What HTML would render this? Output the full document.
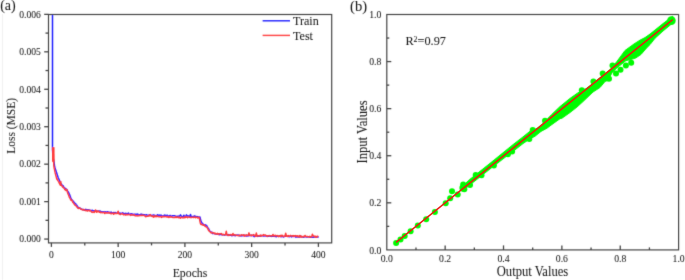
<!DOCTYPE html>
<html><head><meta charset="utf-8"><style>
html,body{margin:0;padding:0;background:#fff;}
svg{display:block;font-family:"Liberation Serif", serif;}
text{fill:#1a1a1a;stroke:#1a1a1a;stroke-width:0.05px;}
</style></head><body>
<svg width="685" height="280" viewBox="0 0 685 280">
<defs><filter id="bl" x="0" y="0" width="685" height="280" filterUnits="userSpaceOnUse"><feConvolveMatrix order="3" kernelMatrix="0.0114 0.084 0.0114 0.084 0.618 0.084 0.0114 0.084 0.0114" edgeMode="none"/></filter></defs>
<g filter="url(#bl)">
<line x1="2.5" y1="14" x2="2.5" y2="280" stroke="#ededed" stroke-width="0.8"/>
<rect x="48.5" y="14.5" width="283.20" height="228.40" fill="none" stroke="#464646" stroke-width="1.2"/>
<line x1="44.20" y1="239.07" x2="48.5" y2="239.07" stroke="#464646" stroke-width="1.3"/>
<text transform="translate(40.80,242.37) scale(1,1.13)" text-anchor="end" font-size="9.6">0.000</text>
<line x1="44.20" y1="201.62" x2="48.5" y2="201.62" stroke="#464646" stroke-width="1.3"/>
<text transform="translate(40.80,204.92) scale(1,1.13)" text-anchor="end" font-size="9.6">0.001</text>
<line x1="44.20" y1="164.17" x2="48.5" y2="164.17" stroke="#464646" stroke-width="1.3"/>
<text transform="translate(40.80,167.47) scale(1,1.13)" text-anchor="end" font-size="9.6">0.002</text>
<line x1="44.20" y1="126.72" x2="48.5" y2="126.72" stroke="#464646" stroke-width="1.3"/>
<text transform="translate(40.80,130.02) scale(1,1.13)" text-anchor="end" font-size="9.6">0.003</text>
<line x1="44.20" y1="89.27" x2="48.5" y2="89.27" stroke="#464646" stroke-width="1.3"/>
<text transform="translate(40.80,92.57) scale(1,1.13)" text-anchor="end" font-size="9.6">0.004</text>
<line x1="44.20" y1="51.82" x2="48.5" y2="51.82" stroke="#464646" stroke-width="1.3"/>
<text transform="translate(40.80,55.12) scale(1,1.13)" text-anchor="end" font-size="9.6">0.005</text>
<line x1="44.20" y1="14.37" x2="48.5" y2="14.37" stroke="#464646" stroke-width="1.3"/>
<text transform="translate(40.80,17.67) scale(1,1.13)" text-anchor="end" font-size="9.6">0.006</text>
<line x1="45.50" y1="220.34" x2="48.5" y2="220.34" stroke="#464646" stroke-width="1.3"/>
<line x1="45.50" y1="182.89" x2="48.5" y2="182.89" stroke="#464646" stroke-width="1.3"/>
<line x1="45.50" y1="145.44" x2="48.5" y2="145.44" stroke="#464646" stroke-width="1.3"/>
<line x1="45.50" y1="108.00" x2="48.5" y2="108.00" stroke="#464646" stroke-width="1.3"/>
<line x1="45.50" y1="70.54" x2="48.5" y2="70.54" stroke="#464646" stroke-width="1.3"/>
<line x1="45.50" y1="33.09" x2="48.5" y2="33.09" stroke="#464646" stroke-width="1.3"/>
<line x1="51.40" y1="242.9" x2="51.40" y2="246.90" stroke="#464646" stroke-width="1.3"/>
<text transform="translate(51.40,257.80) scale(1,1.13)" text-anchor="middle" font-size="9.6">0</text>
<line x1="118.15" y1="242.9" x2="118.15" y2="246.90" stroke="#464646" stroke-width="1.3"/>
<text transform="translate(118.15,257.80) scale(1,1.13)" text-anchor="middle" font-size="9.6">100</text>
<line x1="184.90" y1="242.9" x2="184.90" y2="246.90" stroke="#464646" stroke-width="1.3"/>
<text transform="translate(184.90,257.80) scale(1,1.13)" text-anchor="middle" font-size="9.6">200</text>
<line x1="251.65" y1="242.9" x2="251.65" y2="246.90" stroke="#464646" stroke-width="1.3"/>
<text transform="translate(251.65,257.80) scale(1,1.13)" text-anchor="middle" font-size="9.6">300</text>
<line x1="318.40" y1="242.9" x2="318.40" y2="246.90" stroke="#464646" stroke-width="1.3"/>
<text transform="translate(318.40,257.80) scale(1,1.13)" text-anchor="middle" font-size="9.6">400</text>
<line x1="84.78" y1="242.9" x2="84.78" y2="245.40" stroke="#464646" stroke-width="1.3"/>
<line x1="151.53" y1="242.9" x2="151.53" y2="245.40" stroke="#464646" stroke-width="1.3"/>
<line x1="218.28" y1="242.9" x2="218.28" y2="245.40" stroke="#464646" stroke-width="1.3"/>
<line x1="285.02" y1="242.9" x2="285.02" y2="245.40" stroke="#464646" stroke-width="1.3"/>
<text transform="translate(190.00,276.80) scale(1,1.13)" text-anchor="middle" font-size="11.8">Epochs</text>
<text transform="translate(15.40,125.90) rotate(-90) scale(1,1.13)" text-anchor="middle" font-size="11.5">Loss (MSE)</text>
<text transform="translate(0.20,10.00) scale(1,1.0)" font-size="14.0">(a)</text>
<line x1="262.6" y1="20.8" x2="290" y2="20.8" stroke="#2e2eff" stroke-width="1.5"/>
<text transform="translate(293.00,24.90) scale(1,1.03)" font-size="12.1">Train</text>
<line x1="262.6" y1="35.4" x2="290" y2="35.4" stroke="#ff4a4a" stroke-width="1.5"/>
<text transform="translate(293.00,39.90) scale(1,1.03)" font-size="12.1">Test</text>
<defs><clipPath id="ca"><rect x="48.5" y="15.1" width="283.2" height="228.4"/></clipPath></defs>
<g clip-path="url(#ca)" fill="none" stroke-linejoin="round">
<polyline points="52.50,10.00 52.50,150.00 53.00,157.00 54.00,161.80 54.70,167.10 56.50,172.50 58.20,177.80 60.20,182.13 60.53,183.13 60.87,183.84 61.20,183.92 61.54,184.20 61.87,184.95 62.20,185.45 62.54,185.97 62.87,185.61 63.20,185.92 63.54,186.85 63.87,187.11 64.20,187.77 64.54,187.93 64.87,187.95 65.21,188.25 65.54,189.46 65.87,188.95 66.21,189.16 66.88,189.76 67.54,190.84 68.21,191.80 68.88,193.11 69.55,194.64 70.21,196.31 70.88,198.04 71.55,199.45 72.22,200.19 72.88,200.59 73.55,202.18 74.22,202.24 74.89,203.31 75.55,203.62 76.22,204.82 76.89,205.34 77.56,206.40 78.22,207.94 78.81,207.51 79.39,208.34 79.98,208.04 80.57,208.58 81.16,209.09 81.74,209.08 82.33,209.44 82.92,209.59 83.51,209.41 84.09,210.02 84.68,209.75 85.27,209.90 85.86,209.33 86.44,209.83 87.03,209.77 87.70,210.16 88.37,209.78 89.04,210.35 89.71,210.11 90.37,210.62 91.04,210.52 91.71,210.46 92.38,210.28 93.04,210.83 93.71,210.81 94.38,211.23 95.05,210.69 95.71,211.04 96.38,211.09 97.05,211.09 97.72,211.13 98.38,211.19 99.05,211.03 99.72,210.97 100.39,211.22 101.05,211.57 101.72,211.91 102.39,211.81 103.06,211.89 103.72,211.87 104.39,211.90 105.06,211.81 105.72,212.05 106.39,212.41 107.06,211.84 107.73,211.79 108.40,212.64 109.06,212.19 109.73,212.47 110.40,212.50 111.06,211.96 111.73,213.10 112.40,212.96 113.07,212.55 113.73,212.78 114.40,212.66 115.07,212.42 115.74,212.72 116.41,212.93 117.07,213.21 117.74,212.35 118.41,213.02 119.07,213.48 119.74,212.90 120.41,213.41 121.08,213.55 121.75,213.18 122.41,212.78 123.08,213.09 123.75,213.48 124.41,213.61 125.08,213.97 125.75,213.25 126.42,213.60 127.09,213.84 127.75,213.64 128.42,213.02 129.09,214.02 129.75,214.52 130.42,214.17 131.09,213.64 131.76,213.84 132.43,214.07 133.09,214.80 133.76,214.28 134.43,214.17 135.09,214.65 135.76,214.21 136.43,214.83 137.10,214.11 137.77,214.22 138.43,214.63 139.10,214.88 139.77,214.70 140.44,214.64 141.10,214.04 141.77,214.42 142.44,214.50 143.10,214.56 143.77,214.95 144.44,214.71 145.11,215.10 145.78,214.93 146.44,214.83 147.11,215.00 147.78,215.12 148.44,215.28 149.11,214.91 149.78,215.01 150.45,214.70 151.12,215.62 151.78,215.61 152.45,215.15 153.12,215.09 153.78,214.89 154.45,215.34 155.12,215.38 155.79,216.01 156.46,215.45 157.12,215.18 157.79,214.71 158.46,215.89 159.12,215.56 159.79,215.05 160.46,215.61 161.13,215.11 161.79,216.66 162.46,215.98 163.13,215.85 163.80,215.65 164.47,215.09 165.13,215.71 165.80,215.31 166.47,215.98 167.13,215.18 167.80,215.57 168.47,216.23 169.14,216.38 169.81,215.55 170.47,215.47 171.14,216.22 171.81,216.23 172.47,215.70 173.14,215.81 173.81,215.84 174.48,215.71 175.15,215.89 175.81,216.49 176.48,216.34 177.15,216.77 177.81,216.15 178.48,216.16 179.15,215.93 179.82,216.21 180.49,214.88 181.15,215.76 181.82,216.51 182.49,216.75 183.16,216.57 183.82,215.23 184.49,216.41 185.16,216.13 185.83,216.38 186.49,214.85 187.16,216.04 187.83,215.87 188.50,215.94 189.16,216.39 189.83,216.45 190.50,214.47 191.17,216.85 191.83,216.48 192.50,216.61 193.17,216.81 193.84,216.21 194.50,215.87 195.17,216.69 195.84,216.27 196.50,216.88 197.17,216.59 197.84,216.83 199.31,217.28 199.98,216.96 200.64,220.06 201.31,222.01 201.98,222.97 202.65,223.63 203.31,224.34 203.98,224.73 204.65,225.13 205.32,224.68 205.98,225.56 206.65,225.61 207.32,227.01 207.99,228.09 208.65,228.70 209.32,230.15 209.99,231.14 210.66,231.92 211.32,231.92 211.99,232.42 212.66,232.62 212.53,233.56 213.19,233.54 213.86,233.36 214.53,233.65 215.19,233.78 215.86,233.95 216.53,233.95 217.20,233.99 217.87,233.79 218.53,234.06 219.20,234.82 219.87,234.56 220.53,234.50 221.20,234.49 221.87,234.65 222.54,234.82 223.21,234.60 223.87,234.93 224.54,235.02 225.21,234.79 225.88,234.81 226.54,234.79 227.21,234.81 227.88,235.43 228.55,234.49 229.21,235.16 229.88,235.10 230.55,235.13 231.22,235.38 231.88,235.73 232.55,235.43 233.22,235.38 233.89,235.25 234.55,235.41 235.22,235.73 235.89,235.35 236.56,235.14 237.22,235.11 237.89,235.17 238.56,235.10 239.23,235.86 239.89,235.65 240.56,235.48 241.23,236.00 241.90,235.38 242.56,235.81 243.23,235.84 243.90,235.15 244.57,235.16 245.23,235.36 245.90,235.92 246.57,236.05 247.24,235.30 247.90,236.00 248.57,235.58 249.24,235.59 249.91,235.55 250.57,235.63 251.24,235.20 251.91,235.46 252.58,235.40 253.24,235.93 253.91,236.42 254.58,236.62 255.25,235.71 255.91,235.31 256.58,235.72 257.25,235.57 257.92,236.46 258.58,236.05 259.25,235.67 259.92,236.18 260.59,236.07 261.25,235.44 261.92,235.78 262.59,235.88 263.25,235.97 263.92,236.02 264.59,235.89 265.26,236.06 265.93,235.84 266.59,235.76 267.26,236.50 267.93,236.17 268.60,236.20 269.26,235.61 269.93,236.05 270.60,236.36 271.26,235.74 271.93,236.47 272.60,236.04 273.27,236.29 273.94,236.14 274.60,236.26 275.27,236.57 275.94,236.10 276.61,236.70 277.27,236.01 277.94,235.98 278.61,236.49 279.28,235.97 279.94,236.19 280.61,236.58 281.28,236.69 281.94,235.81 282.61,236.50 283.28,236.93 283.95,236.74 284.62,236.32 285.28,236.23 285.95,236.33 286.62,236.09 287.29,236.37 287.95,236.40 288.62,236.43 289.29,236.84 289.95,236.43 290.62,236.08 291.29,236.84 291.96,236.22 292.62,236.42 293.29,236.53 293.96,236.48 294.63,236.30 295.30,236.54 295.96,237.28 296.63,236.46 297.30,236.61 297.97,237.01 298.63,236.91 299.30,236.93 299.97,236.97 300.63,236.13 301.30,236.48 301.97,236.79 302.64,236.92 303.31,237.17 303.97,236.94 304.64,236.74 305.31,236.84 305.98,236.77 306.64,236.93 307.31,237.07 307.98,236.78 308.64,236.65 309.31,236.65 309.98,237.25 310.65,237.32 311.31,237.25 311.98,237.22 312.65,237.23 313.32,236.99 313.99,237.21 314.65,236.71 315.32,236.97 315.99,236.83 316.65,237.28 317.32,236.90 317.99,237.06 318.66,237.22" stroke="#2424ff" stroke-width="1.5"/>
<polyline points="53.20,147.50 53.40,161.50 53.70,162.60 53.75,164.89 54.08,167.51 54.42,169.15 54.75,170.79 55.09,172.43 55.42,173.70 55.75,174.96 56.09,176.22 56.42,177.45 56.75,179.03 57.09,178.55 57.42,179.86 57.76,180.40 58.09,180.72 58.42,181.36 58.76,181.91 59.09,182.60 59.42,183.31 59.76,184.07 60.09,184.29 60.42,185.14 60.76,181.62 61.09,185.42 61.43,185.63 61.76,185.68 62.09,185.78 62.43,186.68 62.76,186.98 63.09,187.50 63.43,187.83 63.76,187.58 64.10,188.14 64.43,188.34 64.76,189.49 65.43,189.78 66.10,190.58 66.77,189.30 67.43,192.18 68.10,193.89 68.77,195.58 69.44,197.39 70.10,198.16 70.77,199.85 71.44,200.41 72.11,200.29 72.77,202.26 73.44,202.92 74.11,203.95 74.78,204.84 75.44,205.40 76.11,205.83 76.78,206.87 77.45,207.43 78.11,208.18 78.78,208.43 79.45,207.95 80.12,208.49 80.78,208.85 81.45,209.57 82.12,209.40 82.79,209.98 83.45,209.89 84.12,209.47 84.79,210.08 85.46,210.61 86.12,210.70 86.79,210.13 87.46,210.97 88.13,210.68 88.79,210.20 89.46,210.87 90.13,210.44 90.80,210.79 91.46,211.90 92.13,212.38 92.80,211.94 93.47,211.78 94.13,212.40 94.80,211.88 95.47,209.95 96.14,210.97 96.80,212.29 97.47,211.18 98.14,211.01 98.81,211.91 99.47,212.25 100.14,211.96 100.81,212.74 101.48,212.37 102.14,212.55 102.81,212.69 103.48,212.37 104.15,212.73 104.81,213.58 105.48,212.42 106.15,212.89 106.82,213.09 107.48,212.75 108.15,212.99 108.82,212.42 109.49,212.97 110.15,213.21 110.82,213.68 111.49,213.68 112.16,213.17 112.82,213.03 113.49,214.20 114.16,213.91 114.83,212.92 115.49,213.58 116.16,213.43 116.83,213.60 117.50,213.25 118.16,211.20 118.83,213.83 119.50,214.00 120.17,214.53 120.83,214.27 121.50,213.77 122.17,213.62 122.84,214.12 123.50,214.81 124.17,214.77 124.84,214.24 125.51,214.95 126.17,214.72 126.84,214.38 127.51,214.82 128.18,214.67 128.84,214.32 129.51,214.63 130.18,214.90 130.85,215.38 131.51,214.54 132.18,215.06 132.85,215.03 133.52,215.05 134.18,214.65 134.85,215.63 135.52,215.69 136.19,215.85 136.85,215.47 137.52,215.90 138.19,215.59 138.86,215.81 139.52,215.34 140.19,215.60 140.86,215.44 141.53,215.21 142.19,215.49 142.86,215.27 143.53,215.32 144.20,215.64 144.86,215.60 145.53,216.67 146.20,216.59 146.87,216.35 147.53,216.27 148.20,215.67 148.87,216.14 149.54,215.51 150.20,214.55 150.87,215.94 151.54,216.01 152.21,216.51 152.87,215.91 153.54,217.16 154.21,216.08 154.88,216.63 155.54,215.73 156.21,216.71 156.88,215.92 157.55,216.50 158.21,216.45 158.88,216.80 159.55,216.74 160.22,216.69 160.88,216.51 161.55,217.35 162.22,216.45 162.89,216.67 163.55,216.51 164.22,216.77 164.89,216.37 165.56,216.60 166.22,216.97 166.89,216.58 167.56,217.00 168.23,216.62 168.89,217.41 169.56,216.84 170.23,216.59 170.90,217.13 171.56,216.91 172.23,217.35 172.90,217.45 173.57,217.61 174.23,217.58 174.90,217.42 175.57,216.65 176.24,217.48 176.90,217.11 177.57,217.32 178.24,217.67 178.91,216.93 179.57,217.74 180.24,218.17 180.91,217.49 181.58,217.18 182.24,217.83 182.91,217.38 183.58,217.72 184.25,217.81 184.91,216.76 185.58,217.47 186.25,216.77 186.92,217.09 187.58,217.60 188.25,216.92 188.92,217.11 189.59,217.22 190.25,217.52 190.92,217.54 191.59,217.58 192.26,217.23 192.92,217.14 193.59,217.60 194.26,217.11 194.93,217.14 195.59,217.73 196.26,217.17 196.93,217.13 197.60,217.92 198.26,217.61 198.93,217.26 199.60,219.27 200.27,222.91 200.93,224.52 201.60,224.07 202.27,224.76 202.94,225.09 203.60,225.24 204.27,224.74 204.94,226.24 205.61,226.51 206.27,226.89 206.94,227.18 207.61,228.43 208.28,229.74 208.94,230.80 209.61,231.54 210.28,231.81 210.95,232.85 211.61,232.93 212.28,232.39 212.95,232.74 213.62,233.27 214.28,233.03 214.95,233.92 215.62,233.32 216.29,233.76 216.95,233.98 217.62,233.39 218.29,234.38 218.96,233.90 219.62,233.79 220.29,233.87 220.96,233.57 221.63,233.77 222.29,234.94 222.96,234.40 223.63,234.42 224.30,234.68 224.96,234.90 225.63,234.42 226.30,231.28 226.97,234.90 227.63,235.22 228.30,234.97 228.97,235.54 229.64,234.87 230.30,234.86 230.97,234.50 231.64,235.05 232.31,235.33 232.97,233.51 233.64,235.05 234.31,234.75 234.98,234.91 235.64,234.98 236.31,235.13 236.98,235.58 237.65,235.38 238.31,235.54 238.98,235.66 239.65,235.04 240.32,235.74 240.98,235.26 241.65,234.75 242.32,235.04 242.99,235.25 243.65,234.71 244.32,236.18 244.99,235.30 245.66,235.65 246.32,234.88 246.99,235.39 247.66,235.46 248.33,235.08 248.99,232.88 249.66,235.40 250.33,235.55 251.00,234.96 251.66,235.63 252.33,235.34 253.00,235.13 253.67,234.63 254.33,235.41 255.00,235.35 255.67,236.41 256.34,233.06 257.00,236.09 257.67,236.02 258.34,235.71 259.01,235.66 259.67,235.76 260.34,235.03 261.01,236.14 261.68,235.49 262.34,235.34 263.01,235.64 263.68,234.61 264.35,235.16 265.01,235.23 265.68,235.10 266.35,235.93 267.02,236.33 267.68,235.74 268.35,235.62 269.02,235.88 269.69,235.58 270.35,235.83 271.02,235.95 271.69,235.72 272.36,235.67 273.02,234.46 273.69,235.87 274.36,236.12 275.03,235.30 275.69,235.47 276.36,235.72 277.03,236.10 277.70,235.44 278.36,236.40 279.03,236.50 279.70,235.69 280.37,236.41 281.03,235.20 281.70,235.97 282.37,235.41 283.04,236.44 283.70,236.37 284.37,236.25 285.04,235.85 285.71,233.26 286.37,236.26 287.04,235.92 287.71,236.38 288.38,235.53 289.04,236.31 289.71,236.36 290.38,235.31 291.05,235.70 291.71,235.93 292.38,235.99 293.05,235.57 293.72,236.25 294.38,235.83 295.05,236.24 295.72,235.59 296.39,235.85 297.05,236.58 297.72,235.67 298.39,236.32 299.06,236.90 299.72,235.47 300.39,235.88 301.06,237.24 301.73,236.20 302.39,236.78 303.06,236.80 303.73,236.33 304.40,236.70 305.06,235.43 305.73,236.53 306.40,236.57 307.07,236.39 307.73,236.58 308.40,236.95 309.07,236.92 309.74,236.34 310.40,236.89 311.07,237.05 311.74,236.66 312.41,234.18 313.07,235.71 313.74,236.06 314.41,236.82 315.08,236.12 315.74,237.02 316.41,237.16 317.08,236.35 317.75,236.30 318.41,236.68" stroke="#ff3a3a" stroke-width="1.5"/>
<line x1="53.25" y1="147.2" x2="53.35" y2="161.8" stroke="#ff3a3a" stroke-width="2.6"/>
</g>
<rect x="386.8" y="14.5" width="291.80" height="235.40" fill="none" stroke="#464646" stroke-width="1.2"/>
<text transform="translate(381.30,253.50) scale(1,1.13)" text-anchor="end" font-size="9.7">0.0</text>
<text transform="translate(386.80,262.40) scale(1,1.13)" text-anchor="middle" font-size="9.7">0.0</text>
<line x1="386.8" y1="202.82" x2="391.30" y2="202.82" stroke="#464646" stroke-width="1.3"/>
<line x1="445.16" y1="249.9" x2="445.16" y2="245.40" stroke="#464646" stroke-width="1.3"/>
<text transform="translate(381.30,206.42) scale(1,1.13)" text-anchor="end" font-size="9.7">0.2</text>
<text transform="translate(445.16,262.40) scale(1,1.13)" text-anchor="middle" font-size="9.7">0.2</text>
<line x1="386.8" y1="155.74" x2="391.30" y2="155.74" stroke="#464646" stroke-width="1.3"/>
<line x1="503.52" y1="249.9" x2="503.52" y2="245.40" stroke="#464646" stroke-width="1.3"/>
<text transform="translate(381.30,159.34) scale(1,1.13)" text-anchor="end" font-size="9.7">0.4</text>
<text transform="translate(503.52,262.40) scale(1,1.13)" text-anchor="middle" font-size="9.7">0.4</text>
<line x1="386.8" y1="108.66" x2="391.30" y2="108.66" stroke="#464646" stroke-width="1.3"/>
<line x1="561.88" y1="249.9" x2="561.88" y2="245.40" stroke="#464646" stroke-width="1.3"/>
<text transform="translate(381.30,112.26) scale(1,1.13)" text-anchor="end" font-size="9.7">0.6</text>
<text transform="translate(561.88,262.40) scale(1,1.13)" text-anchor="middle" font-size="9.7">0.6</text>
<line x1="386.8" y1="61.58" x2="391.30" y2="61.58" stroke="#464646" stroke-width="1.3"/>
<line x1="620.24" y1="249.9" x2="620.24" y2="245.40" stroke="#464646" stroke-width="1.3"/>
<text transform="translate(381.30,65.18) scale(1,1.13)" text-anchor="end" font-size="9.7">0.8</text>
<text transform="translate(620.24,262.40) scale(1,1.13)" text-anchor="middle" font-size="9.7">0.8</text>
<text transform="translate(381.30,18.10) scale(1,1.13)" text-anchor="end" font-size="9.7">1.0</text>
<text transform="translate(678.60,262.40) scale(1,1.13)" text-anchor="middle" font-size="9.7">1.0</text>
<line x1="386.8" y1="226.36" x2="389.30" y2="226.36" stroke="#464646" stroke-width="1.3"/>
<line x1="415.98" y1="249.9" x2="415.98" y2="247.40" stroke="#464646" stroke-width="1.3"/>
<line x1="386.8" y1="179.28" x2="389.30" y2="179.28" stroke="#464646" stroke-width="1.3"/>
<line x1="474.34" y1="249.9" x2="474.34" y2="247.40" stroke="#464646" stroke-width="1.3"/>
<line x1="386.8" y1="132.20" x2="389.30" y2="132.20" stroke="#464646" stroke-width="1.3"/>
<line x1="532.70" y1="249.9" x2="532.70" y2="247.40" stroke="#464646" stroke-width="1.3"/>
<line x1="386.8" y1="85.12" x2="389.30" y2="85.12" stroke="#464646" stroke-width="1.3"/>
<line x1="591.06" y1="249.9" x2="591.06" y2="247.40" stroke="#464646" stroke-width="1.3"/>
<line x1="386.8" y1="38.04" x2="389.30" y2="38.04" stroke="#464646" stroke-width="1.3"/>
<line x1="649.42" y1="249.9" x2="649.42" y2="247.40" stroke="#464646" stroke-width="1.3"/>
<text transform="translate(532.50,276.40) scale(1,1.13)" text-anchor="middle" font-size="12.6">Output Values</text>
<text transform="translate(367.00,132.00) rotate(-90) scale(1,1.13)" text-anchor="middle" font-size="12.6">Input Values</text>
<text transform="translate(350.10,10.60) scale(1,1.0)" font-size="14.6">(b)</text>
<text transform="translate(405.4,45.4) scale(1,1.02)" font-size="12.3">R<tspan dy="-3.6" font-size="7.8">2</tspan><tspan dy="3.6">=0.97</tspan></text>
<g>
<polygon points="462.50,186.12 470.00,179.27 490.00,163.36 513.00,144.64 523.00,136.88 530.00,131.24 534.00,129.52 537.00,128.51 543.00,123.67 548.00,118.25 552.00,114.22 560.00,106.58 570.00,98.42 577.00,93.49 583.00,89.55 586.00,88.84 592.00,84.30 600.00,77.86 608.00,71.42 612.00,67.69 617.00,61.37 621.00,55.94 625.00,50.52 634.00,43.97 640.00,40.14 645.00,37.61 650.00,34.08 663.00,23.61 672.70,16.20 672.70,23.00 663.00,31.01 655.00,38.26 650.00,44.58 646.40,48.18 641.00,54.43 635.70,58.00 630.00,59.79 626.00,60.52 617.00,67.77 612.00,72.79 609.00,78.41 605.00,81.53 600.00,87.46 593.00,92.00 583.00,101.55 577.00,106.99 570.00,112.52 562.00,118.17 560.00,118.68 551.00,125.13 547.00,128.15 541.00,131.38 535.00,136.22 530.00,138.84 523.00,143.58 515.00,149.83 508.00,155.07 490.00,168.96 470.00,184.87 462.50,190.92" fill="#00fa00" stroke="#00fa00" stroke-width="1" stroke-linejoin="round"/>
<circle cx="463.0" cy="187.91" r="3.6" fill="#00fa00"/>
<circle cx="671.4" cy="20.65" r="4.3" fill="#00fa00"/>
<g fill="#00fa00">
<circle cx="396.1" cy="243.0" r="3.0"/>
<circle cx="400.5" cy="239.6" r="3.0"/>
<circle cx="404.7" cy="236.1" r="3.0"/>
<circle cx="410.6" cy="231.3" r="3.0"/>
<circle cx="417.8" cy="225.6" r="3.0"/>
<circle cx="426.2" cy="219.2" r="3.0"/>
<circle cx="434.9" cy="212.1" r="3.0"/>
<circle cx="445.7" cy="203.2" r="3.0"/>
<circle cx="450.2" cy="198.3" r="3.0"/>
<circle cx="452.0" cy="191.2" r="3.0"/>
<circle cx="457.7" cy="194.6" r="3.0"/>
<circle cx="463.2" cy="184.4" r="3.0"/>
<circle cx="464.3" cy="189.3" r="3.0"/>
<circle cx="470.0" cy="185.0" r="3.0"/>
<circle cx="475.7" cy="175.0" r="3.0"/>
<circle cx="493.9" cy="165.4" r="3.0"/>
<circle cx="507.9" cy="154.3" r="3.0"/>
<circle cx="512.1" cy="151.6" r="3.0"/>
<circle cx="529.3" cy="138.9" r="3.0"/>
<circle cx="532.7" cy="129.9" r="3.0"/>
<circle cx="545.0" cy="120.8" r="3.0"/>
<circle cx="581.8" cy="90.3" r="3.0"/>
<circle cx="593.4" cy="81.5" r="3.0"/>
<circle cx="602.7" cy="73.4" r="3.0"/>
<circle cx="612.5" cy="65.4" r="3.0"/>
<circle cx="616.0" cy="73.4" r="3.0"/>
<circle cx="620.5" cy="69.8" r="3.0"/>
<circle cx="625.9" cy="65.4" r="3.0"/>
<circle cx="631.2" cy="62.7" r="3.0"/>
<circle cx="609.0" cy="78.8" r="3.0"/>
<circle cx="606.0" cy="78.5" r="3.0"/>
<circle cx="481.5" cy="175.3" r="3.0"/>
</g>
</g>
</g>
<line x1="396.1" y1="242.4" x2="672.7" y2="19.6" stroke="#ea1a10" stroke-width="1.35"/>
</svg>
</body></html>
